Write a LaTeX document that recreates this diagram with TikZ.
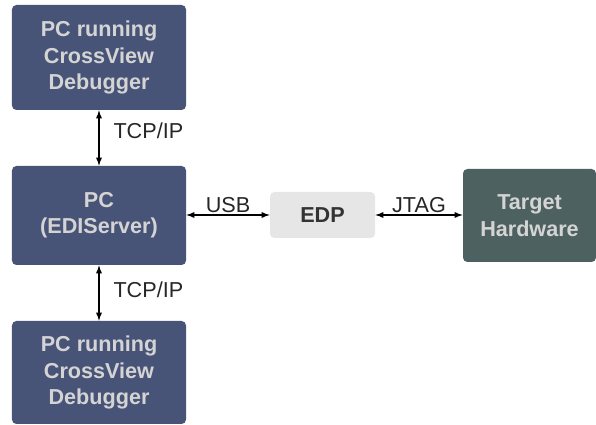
\documentclass[tikz,border=0pt]{standalone}
\usepackage{fontspec}
\setmainfont{Liberation Sans}
\usepackage{xcolor}
\usetikzlibrary{positioning}
\definecolor{hostBlue}{HTML}{485477}
\definecolor{targetGreen}{HTML}{4D6161}
\definecolor{probeGray}{HTML}{E6E6E6}
\definecolor{boxText}{HTML}{D4D4D4}
\tikzset{%
  host/.style={rectangle, rounded corners=2.5pt, fill=hostBlue, text=boxText, font=\fontsize{12.3}{15}\selectfont\bfseries, minimum width=3.48cm, align=center, inner sep=0pt},
  % probe in the middle
  probe/.style={rectangle, rounded corners=2.5pt, fill=probeGray, text=black!80, font=\fontsize{12.3}{15}\selectfont\bfseries, minimum width=2.1cm, minimum height=0.92cm, align=center, inner sep=0pt},
  target/.style={rectangle, rounded corners=2.5pt, fill=targetGreen, text=boxText, font=\fontsize{12.3}{15}\selectfont\bfseries, minimum width=2.66cm, minimum height=1.86cm, align=center, inner sep=0pt},
  link/.style={latex-latex, line width=0.6pt},
  linkLabel/.style={font=\fontsize{12.3}{15}\selectfont, text=black!85, inner sep=0pt}
}

\begin{document}
\begin{tikzpicture}[]
    \useasboundingbox (0,0) rectangle (11.92,-8.5);

    \node[host, minimum height=2.1cm] (debugA) at (1.98,-1.15) {PC running\\CrossView\\Debugger};
    \node[host, minimum height=1.98cm] (server) at (1.98,-4.31) {PC\\(EDIServer)};
    \node[host, minimum height=2.06cm] (debugB) at (1.98,-7.45) {PC running\\CrossView\\Debugger};

    \node[probe] (edp) at (6.45,-4.3) {EDP};
    \node[target] (board) at (10.59,-4.31) {Target\\Hardware};

    \draw[link] (debugA) -- node[linkLabel, right=0.28cm, yshift=0.14cm]{TCP/IP} (server);
    \draw[link] (server) -- node[linkLabel, right=0.28cm, yshift=0.06cm]{TCP/IP} (debugB);
    \draw[link] (server.east |- edp) -- node[linkLabel, above=1pt]{USB} (edp);
    \draw[link] (edp) -- node[linkLabel, above=1pt]{JTAG} (board.west |- edp);

    \end{tikzpicture}
\end{document}
